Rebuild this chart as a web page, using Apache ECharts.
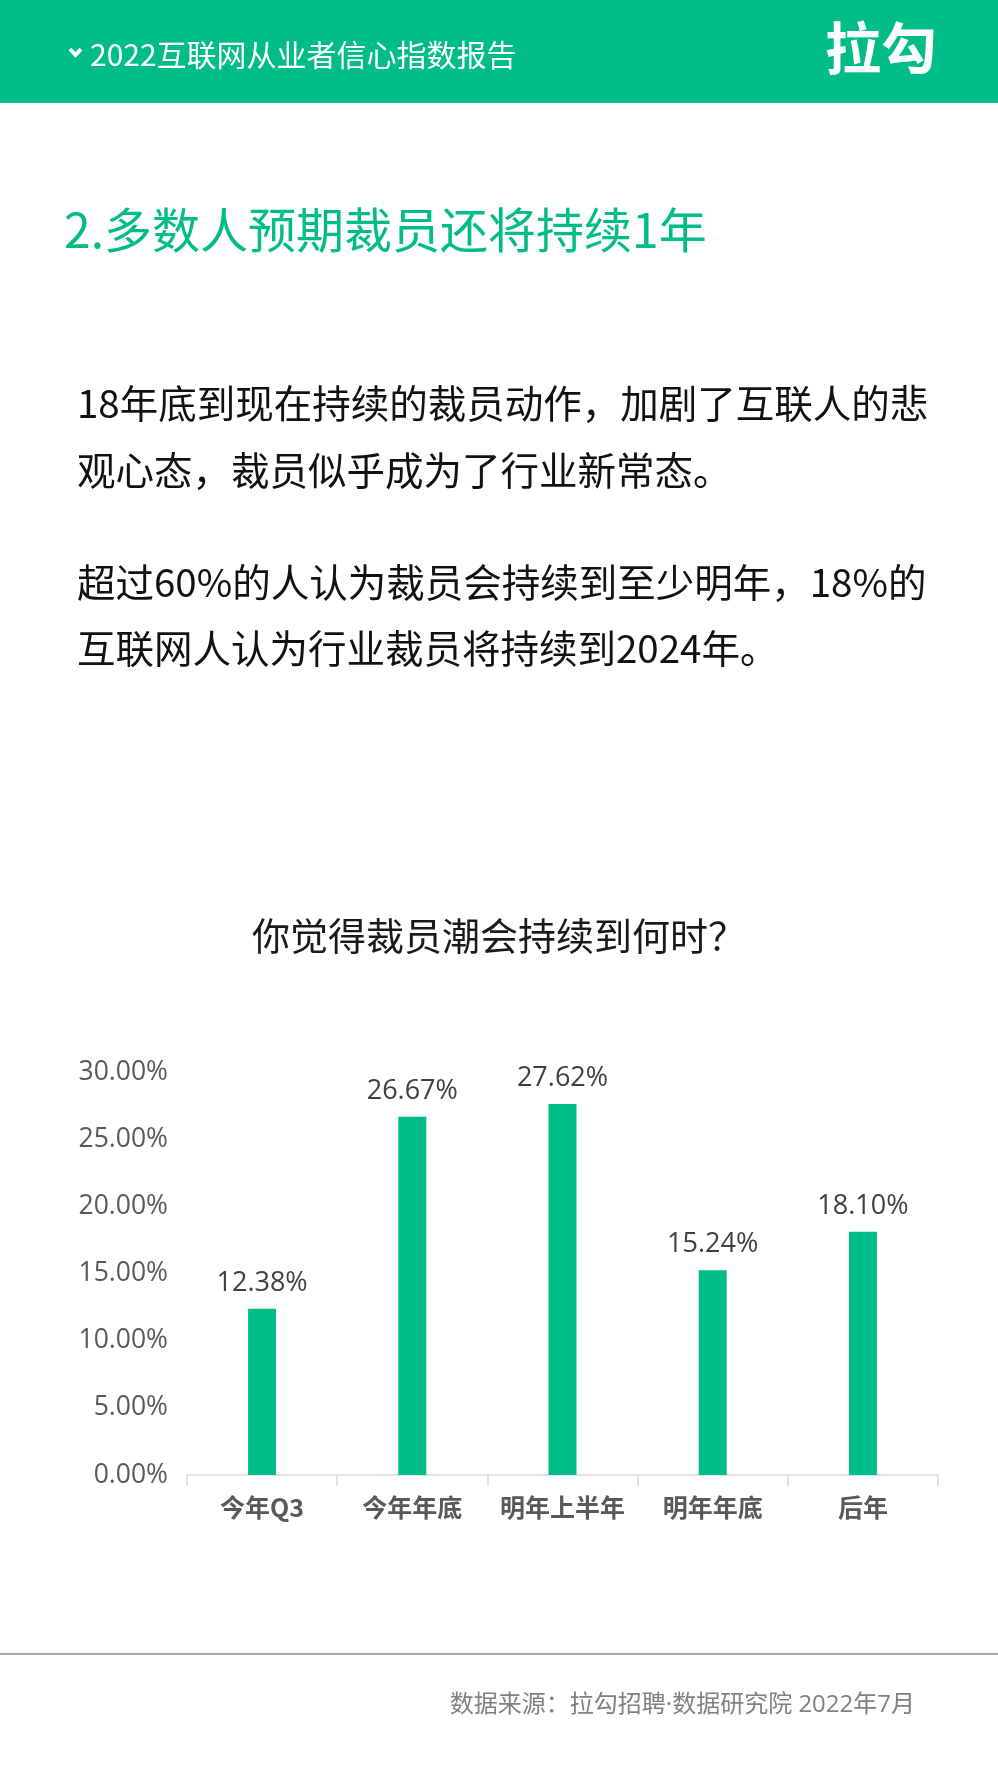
<!DOCTYPE html>
<html>
<head>
<meta charset="utf-8">
<script src="https://cdn.jsdelivr.net/npm/echarts@6/dist/echarts.min.js"></script>
<style>
html,body{margin:0;padding:0;background:#fff;}
#chart{width:998px;height:1776px;}
</style>
</head>
<body>
<div id="chart"></div>
<script>
// ---- data ----
const categories = ['今年Q3', '今年年底', '明年上半年', '明年年底', '后年'];
const values = [12.38, 26.67, 27.62, 15.24, 18.10];
const yTicks = [0, 5, 10, 15, 20, 25, 30];

const headerText = '2022互联网从业者信心指数报告';
const logoText = '拉勾';
const sectionTitle = '2.多数人预期裁员还将持续1年';
const paragraphLines = [
  '18年底到现在持续的裁员动作，加剧了互联人的悲',
  '观心态，裁员似乎成为了行业新常态。',
  '超过60%的人认为裁员会持续到至少明年，18%的',
  '互联网人认为行业裁员将持续到2024年。'
];
const chartTitle = '你觉得裁员潮会持续到何时？';
const sourceText = '数据来源：拉勾招聘·数据研究院 2022年7月';

// ---- styles ----
const GREEN = '#00bc86';
const CJK = '"Noto Sans CJK SC", "Noto Sans", sans-serif';
const LAT = '"Open Sans", "Noto Sans CJK SC", sans-serif';

const chart = echarts.init(document.getElementById('chart'), null, {renderer: 'canvas'});

const paraY = [403, 470, 582, 648];
const graphics = [
  {type: 'rect', left: 0, top: 0, shape: {width: 998, height: 103}, style: {fill: GREEN}, silent: true},
  {type: 'polyline', shape: {points: [[70, 49], [75.5, 55], [81, 49]]}, style: {stroke: '#fff', lineWidth: 4, fill: null}},
  {type: 'text', x: 90, y: 55, style: {text: headerText, fill: '#fff', font: '30px ' + CJK, textVerticalAlign: 'middle'}},
  {type: 'text', x: 937, y: 48, style: {text: logoText, fill: '#fff', font: 'bold 56px ' + CJK, textAlign: 'right', textVerticalAlign: 'middle'}},
  {type: 'text', x: 64, y: 230, style: {text: sectionTitle, fill: GREEN, font: '48px ' + CJK, textVerticalAlign: 'middle'}},
  {type: 'text', x: 252, y: 936, style: {text: chartTitle, fill: '#1a1a1a', font: '38px ' + CJK, textVerticalAlign: 'middle'}},
  {type: 'rect', left: 0, top: 1653, shape: {width: 998, height: 2}, style: {fill: '#a6a6a6'}, silent: true},
  {type: 'text', x: 915, y: 1705, style: {text: sourceText, fill: '#808080', font: '24px ' + LAT, textAlign: 'right', textVerticalAlign: 'middle'}}
];
paragraphLines.forEach((t, i) => {
  graphics.push({type: 'text', x: 77, y: paraY[i], style: {text: t, fill: '#111', font: '38.5px ' + CJK, textVerticalAlign: 'middle'}});
});

chart.setOption({
  animation: false,
  backgroundColor: '#fff',
  graphic: graphics,
  grid: {left: 187, right: 60, top: 1072, bottom: 301, containLabel: false},
  xAxis: {
    type: 'category',
    data: categories,
    axisLine: {lineStyle: {color: '#d9d9d9', width: 1.5}},
    axisTick: {show: true, interval: 0, length: 11, lineStyle: {color: '#d9d9d9', width: 1.5}},
    axisLabel: {interval: 0, color: '#595959', fontSize: 25, fontWeight: 'bold', fontFamily: CJK, margin: 20}
  },
  yAxis: {
    type: 'value',
    min: yTicks[0],
    max: yTicks[yTicks.length - 1],
    interval: yTicks[1] - yTicks[0],
    splitLine: {show: false},
    axisLine: {show: false},
    axisTick: {show: false},
    axisLabel: {color: '#595959', fontSize: 26.5, fontFamily: LAT, margin: 19,
      formatter: v => v.toFixed(2) + '%'}
  },
  series: [{
    type: 'bar',
    data: values,
    barWidth: 28,
    itemStyle: {color: GREEN},
    label: {show: true, position: 'top', distance: 12, color: '#404040', fontSize: 27, fontFamily: LAT,
      formatter: p => p.value.toFixed(2) + '%'}
  }]
});
</script>
</body>
</html>
